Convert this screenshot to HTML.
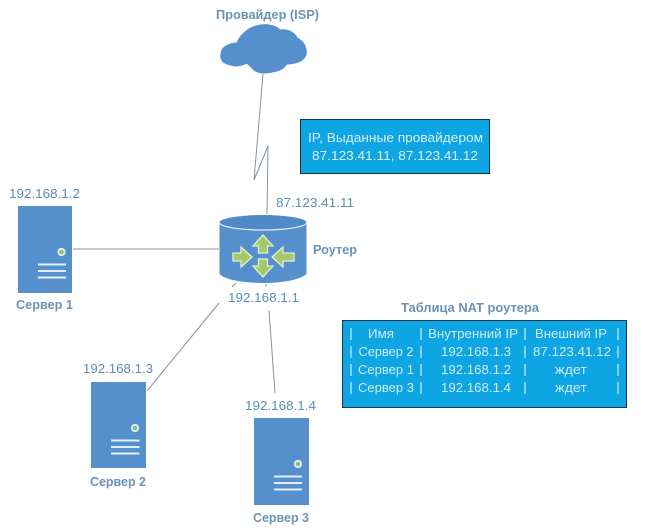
<!DOCTYPE html>
<html>
<head>
<meta charset="utf-8">
<style>
html,body{margin:0;padding:0;background:#fff;width:647px;height:532px;overflow:hidden}
svg{display:block}
text{font-family:"Liberation Sans","DejaVu Sans",sans-serif}
.ip{font-size:13px;fill:#5b8db5}
.lb{font-size:12.5px;font-weight:bold;fill:#6a93b5}
.w{font-size:13px;fill:#d8f1fb}
.t{font-size:13px;fill:#cdeefa;text-anchor:middle}
.s{stroke:#84919c;stroke-width:1;fill:none}
</style>
</head>
<body>
<svg width="647" height="532" viewBox="0 0 647 532" xmlns="http://www.w3.org/2000/svg">
<rect width="647" height="532" fill="#fff"/>

<!-- connectors -->
<polyline class="s" points="263,74 254,180 268,146 267,214"/>
<line class="s" x1="73" y1="249" x2="219" y2="249"/>
<line class="s" x1="236" y1="283" x2="232" y2="287"/>
<line class="s" x1="219" y1="303" x2="147" y2="391"/>
<line class="s" x1="269" y1="310" x2="275" y2="393"/>
<line class="s" x1="266" y1="284" x2="266" y2="287"/>

<!-- cloud -->
<path fill="#5590cd" stroke="#5590cd" stroke-width="1" stroke-linejoin="round" d="M221,54 Q221,49 226,46 Q231,43 237,43 Q239,37 244,33 Q249,28 256,26 Q263,24 269,25 Q276,26 280,30 Q288,29 293,33 Q296,35 297,38 Q303,41 305,46 Q307,51 306,55 Q303,61 298,62 Q292,64 287,64 Q284,68 280,70 Q271,73 262,73 Q255,72 252,68 Q249,65 247,63 Q241,66 235,66 Q228,65 223,62 Q220,58 221,54 Z"/>

<!-- router -->
<path d="M219.500,222.500 V274 C225,280 245,283 263,283 C285,283 301,279 306.500,274 V222.500 Z" fill="#5590cd"/>
<ellipse cx="263" cy="222.500" rx="43.500" ry="7.500" fill="#4f8ac6"/>
<path d="M219.500,222.500 A43.500,7.500 0 0 0 306.500,222.500" fill="none" stroke="#e6f1fa" stroke-width="1.200"/>
<g fill="#a6c86b" stroke="#e4f0d2" stroke-width="1.300">
<path d="M263,235 L273,246 H267.500 V253 H258.500 V246 H253 Z"/>
<path d="M263,277 L273,266 H267.500 V259 H258.500 V266 H253 Z"/>
<path d="M252,257 L241,247 V253 H233 V261 H241 V267 Z"/>
<path d="M272,257 L283,247 V253 H294 V261 H283 V267 Z"/>
</g>

<!-- servers -->
<rect x="18" y="206" width="54" height="87" fill="#5590cd"/>
<circle cx="61.500" cy="252" r="3.200" fill="#8cc07a" stroke="#dff0f2" stroke-width="1.800"/>
<path d="M38,264.500 H66 M38,271 H66 M38,277.500 H66" stroke="#e3eff9" stroke-width="2"/>
<rect x="91" y="382" width="55" height="86" fill="#5590cd"/>
<circle cx="135" cy="428" r="3.200" fill="#8cc07a" stroke="#dff0f2" stroke-width="1.800"/>
<path d="M111,440.500 H139.500 M111,447 H139.500 M111,453.500 H139.500" stroke="#e3eff9" stroke-width="2"/>
<rect x="254" y="418" width="55" height="87" fill="#5590cd"/>
<circle cx="298" cy="464" r="3.200" fill="#8cc07a" stroke="#dff0f2" stroke-width="1.800"/>
<path d="M274,476.500 H302 M274,483 H302 M274,489.500 H302" stroke="#e3eff9" stroke-width="2"/>

<!-- IP box -->
<rect x="300.500" y="119.500" width="189" height="54" fill="#0ea5e4" stroke="#10354f"/>
<text class="w" x="308" y="142" textLength="175" lengthAdjust="spacingAndGlyphs">IP, Выданные провайдером</text>
<text class="w" x="312" y="160" textLength="166" lengthAdjust="spacingAndGlyphs">87.123.41.11, 87.123.41.12</text>

<!-- NAT table -->
<rect x="342.500" y="320.500" width="284" height="87" fill="#0ea5e4" stroke="#10354f"/>
<g stroke="#cdeefa" stroke-width="1.200">
<path d="M351,328 V340 M351,346 V358 M351,364 V376 M351,382 V394"/>
<path d="M421,328 V340 M421,346 V358 M421,364 V376 M421,382 V394"/>
<path d="M525,328 V340 M525,346 V358 M525,364 V376 M525,382 V394"/>
<path d="M618,328 V340 M618,346 V358 M618,364 V376 M618,382 V394"/>
</g>
<text class="t" x="381" y="338" textLength="26" lengthAdjust="spacingAndGlyphs">Имя</text>
<text class="t" x="473" y="338" textLength="90" lengthAdjust="spacingAndGlyphs">Внутренний IP</text>
<text class="t" x="571" y="338" textLength="72" lengthAdjust="spacingAndGlyphs">Внешний IP</text>
<text class="t" x="386" y="356" textLength="55" lengthAdjust="spacingAndGlyphs">Сервер 2</text>
<text class="t" x="476" y="356" textLength="70" lengthAdjust="spacingAndGlyphs">192.168.1.3</text>
<text class="t" x="572" y="356" textLength="78" lengthAdjust="spacingAndGlyphs">87.123.41.12</text>
<text class="t" x="386" y="374" textLength="56" lengthAdjust="spacingAndGlyphs">Сервер 1</text>
<text class="t" x="476" y="374" textLength="70" lengthAdjust="spacingAndGlyphs">192.168.1.2</text>
<text class="t" x="571" y="374" textLength="32" lengthAdjust="spacingAndGlyphs">ждет</text>
<text class="t" x="386" y="392" textLength="56" lengthAdjust="spacingAndGlyphs">Сервер 3</text>
<text class="t" x="476" y="392" textLength="70" lengthAdjust="spacingAndGlyphs">192.168.1.4</text>
<text class="t" x="571" y="392" textLength="32" lengthAdjust="spacingAndGlyphs">ждет</text>

<!-- labels -->
<text class="lb" x="216" y="19" textLength="103" lengthAdjust="spacingAndGlyphs">Провайдер (ISP)</text>
<text class="lb" x="401" y="312" textLength="138" lengthAdjust="spacingAndGlyphs">Таблица NAT роутера</text>
<text class="lb" x="313" y="254" textLength="44" lengthAdjust="spacingAndGlyphs">Роутер</text>
<text class="lb" x="16" y="309" textLength="57" lengthAdjust="spacingAndGlyphs">Сервер 1</text>
<text class="lb" x="90" y="486" textLength="56" lengthAdjust="spacingAndGlyphs">Сервер 2</text>
<text class="lb" x="253" y="522" textLength="56" lengthAdjust="spacingAndGlyphs">Сервер 3</text>
<text class="ip" x="276" y="207" textLength="78" lengthAdjust="spacingAndGlyphs">87.123.41.11</text>
<text class="ip" x="228" y="302" textLength="71" lengthAdjust="spacingAndGlyphs">192.168.1.1</text>
<text class="ip" x="9" y="198" textLength="71" lengthAdjust="spacingAndGlyphs">192.168.1.2</text>
<text class="ip" x="83" y="373" textLength="70" lengthAdjust="spacingAndGlyphs">192.168.1.3</text>
<text class="ip" x="245" y="410" textLength="71" lengthAdjust="spacingAndGlyphs">192.168.1.4</text>
</svg>
</body>
</html>
